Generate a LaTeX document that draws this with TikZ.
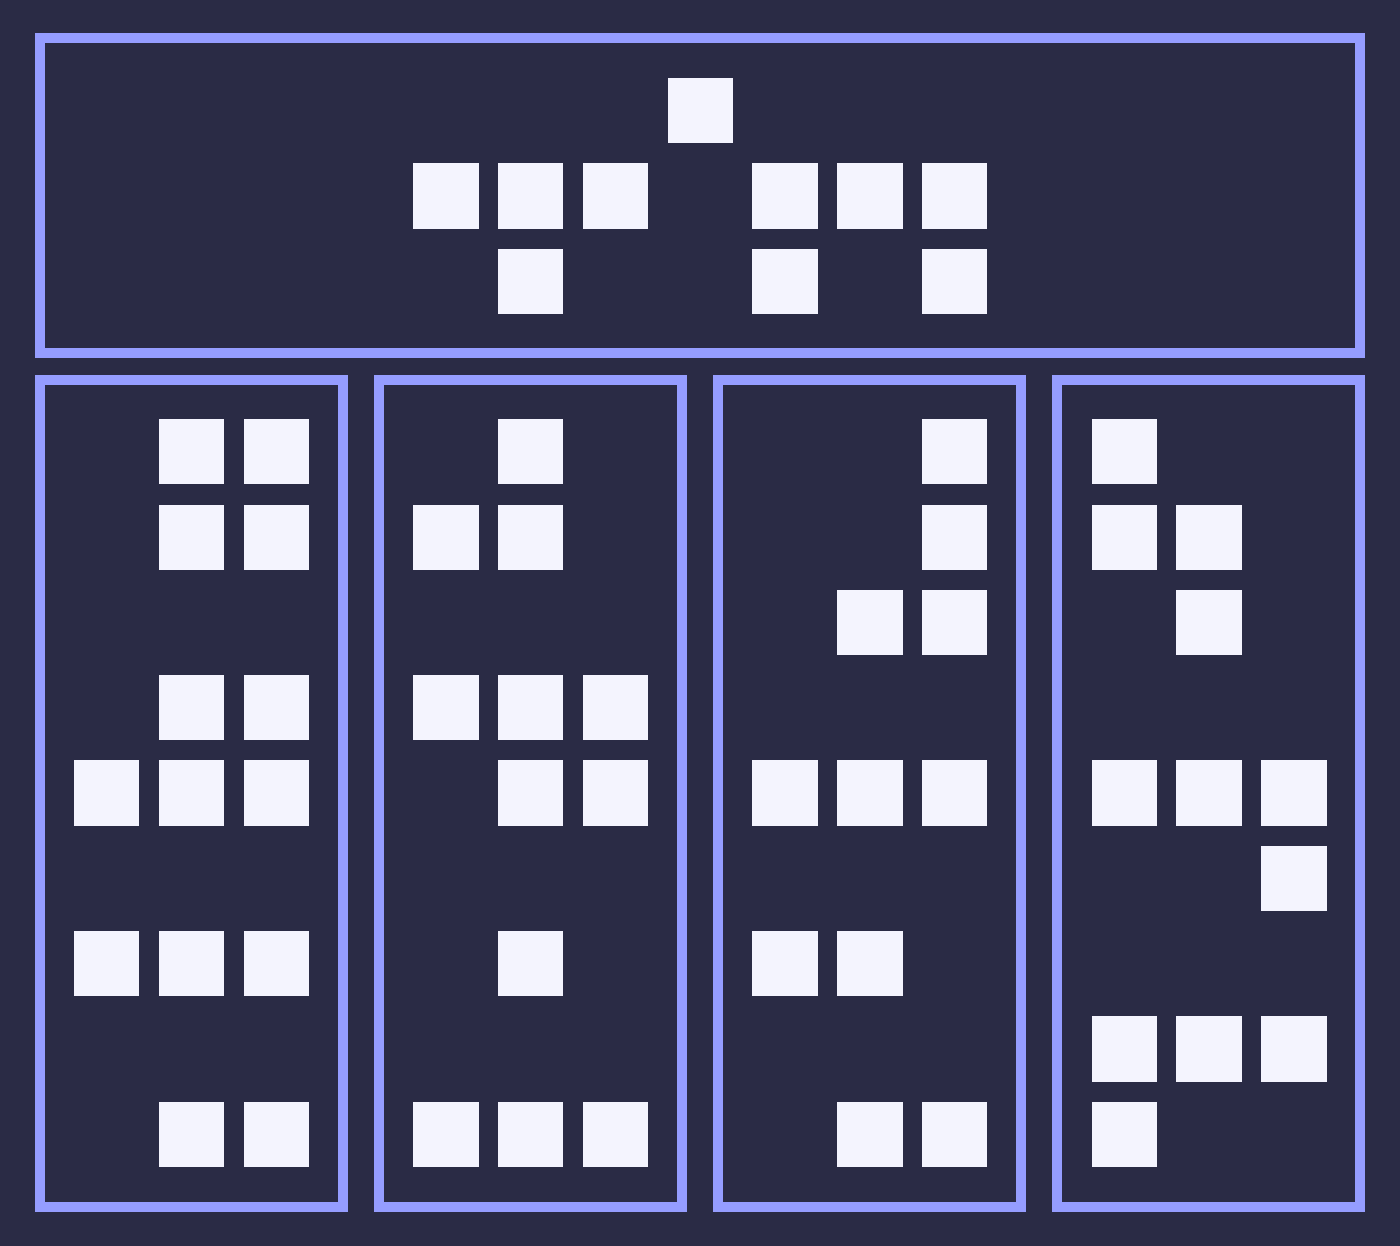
\documentclass[tikz,border=0pt]{standalone}
\definecolor{bgc}{HTML}{2A2B45}
\definecolor{framec}{HTML}{959DFF}
\definecolor{cellc}{HTML}{F4F4FE}
\begin{document}
\begin{tikzpicture}[x=0.01cm,y=-0.01cm,
  panel/.style={draw=framec,line width=0.1cm},
  cellsq/.style={fill=cellc}]
\fill[bgc] (0,0) rectangle (1400,1246);
\useasboundingbox (0,0) rectangle (1400,1246);
\draw[panel] (40,38) rectangle (1360,353);
\draw[panel] (40,380) rectangle (343,1207);
\draw[panel] (379,380) rectangle (682,1207);
\draw[panel] (718,380) rectangle (1021,1207);
\draw[panel] (1057,380) rectangle (1360,1207);
\foreach \c/\r in {
  7/0, 4/1,5/1,6/1,8/1,9/1,10/1, 5/2,8/2,10/2,
  1/4,2/4, 1/5,2/5, 1/7,2/7, 0/8,1/8,2/8, 0/10,1/10,2/10, 1/12,2/12,
  5/4, 4/5,5/5, 4/7,5/7,6/7, 5/8,6/8, 5/10, 4/12,5/12,6/12,
  10/4, 10/5, 9/6,10/6, 8/8,9/8,10/8, 8/10,9/10, 9/12,10/12,
  12/4, 12/5,13/5, 13/6, 12/8,13/8,14/8, 14/9, 12/11,13/11,14/11, 12/12}
  \fill[cellsq] ({74+84.8*\c},{78+85.3*\r}) rectangle ++(65.3,65.3);
\end{tikzpicture}
\end{document}
